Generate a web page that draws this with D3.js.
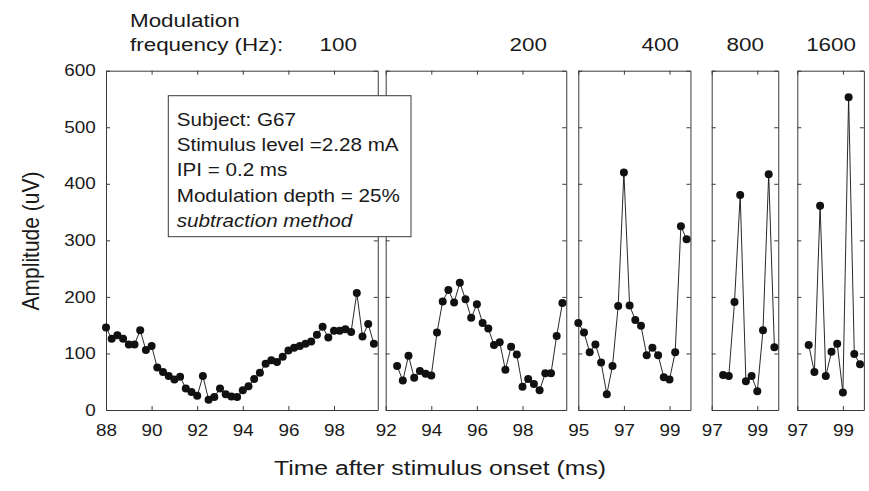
<!DOCTYPE html>
<html>
<head>
<meta charset="utf-8">
<script src="https://cdn.jsdelivr.net/npm/d3@7"></script>
<style>
body { margin: 0; background: #fff; }
</style>
</head>
<body>
<div id="chart"></div>
<script>
var w = 869, h = 491;

// modulation frequencies (Hz), one panel each
var freqs = [100, 200, 400, 800, 1600];

// first sample time (ms) of each series, samples every 0.25 ms
var startTimes = [88, 92.5, 95, 97.5, 97.5];
var step = 0.25;

// amplitudes (uV)
var amp100 = [146,126,132,126,116,116,141,106,113,75,67,60,54,59,38,32,25,60,18,23,
              38,28,24,23,35,42,55,66,82,88,85,94,105,110,113,117,121,133,147,128,
              140,140,143,138,207,130,152,117];
var amp200 = [78,52,96,57,69,64,61,137,192,212,190,225,196,163,187,154,144,115,120,71,
              112,98,41,55,46,35,65,65,131,189];
var amp400 = [154,137,102,116,84,28,78,184,420,185,159,149,97,110,97,58,54,102,325,302];
var amp800 = [62,60,191,380,51,60,33,141,417,111];
var amp1600 = [115,67,361,60,103,117,31,553,99,81];
var series = [amp100, amp200, amp400, amp800, amp1600];

// axis domains and ticks
var xStarts = [88, 92, 95, 97, 97];
var xEnd = 99.92;
var xTicks = [[88,90,92,94,96,98], [92,94,96,98], [95,97,99], [97,99], [97,99]];
var yTicks = [0,100,200,300,400,500,600];

var infoLines = ["Subject: G67", "Stimulus level =2.28 mA", "IPI = 0.2 ms",
                 "Modulation depth = 25%", "subtraction method"];

// layout
var panelLeft = [106, 385.7, 578.3, 711.7, 797.3];
var pxPerMs = 22.8;
var freqLabelX = [357, 547, 679, 764, 856];
var sx = 1.18; // the figure is a little stretched horizontally
var font = "'Liberation Sans', Arial, Helvetica, sans-serif";
var axisColor = "#3a3a3a";

var svg = d3.select("#chart")
            .append("svg")
            .attr("width", w)
            .attr("height", h)
            .style("font-family", font);

var yScale = d3.scaleLinear()
               .domain([0, 600])
               .range([410, 70.7]);

function addText(x, y, str, size, anchor, italic) {
    return svg.append("text")
        .attr("transform", "translate(" + x + "," + y + ") scale(" + sx + ",1)")
        .attr("text-anchor", anchor || "start")
        .attr("font-size", size + "px")
        .attr("font-style", italic ? "italic" : "normal")
        .attr("fill", "#1a1a1a")
        .text(str);
}

function styleAxis(g) {
    g.attr("font-family", font).attr("font-size", "16px");
    g.select(".domain").attr("stroke", axisColor);
    g.selectAll(".tick line").attr("stroke", axisColor);
    g.selectAll(".tick text").attr("fill", "#1a1a1a")
        .attr("transform", "scale(" + sx + ",1)");
}

freqs.forEach(function(f, i) {
    var x0 = panelLeft[i];
    var x1 = x0 + (xEnd - xStarts[i]) * pxPerMs;
    var xScale = d3.scaleLinear()
                   .domain([xStarts[i], xEnd])
                   .range([x0, x1]);

    var data = series[i].map(function(v, j) {
        return {t: startTimes[i] + j * step, v: v};
    });

    // frame with inward ticks on all four sides
    svg.append("g")
        .attr("transform", "translate(0," + yScale(0) + ")")
        .call(d3.axisBottom(xScale).tickValues(xTicks[i]).tickFormat(d3.format("d"))
              .tickSizeInner(-4).tickSizeOuter(0).tickPadding(14.5))
        .call(styleAxis);

    svg.append("g")
        .attr("transform", "translate(0," + yScale(600) + ")")
        .call(d3.axisTop(xScale).tickValues(xTicks[i]).tickFormat("")
              .tickSizeInner(-4).tickSizeOuter(0))
        .call(styleAxis);

    svg.append("g")
        .attr("transform", "translate(" + x0 + ",0)")
        .call(d3.axisLeft(yScale).tickValues(yTicks)
              .tickFormat(i === 0 ? d3.format("d") : "")
              .tickSizeInner(-4).tickSizeOuter(0).tickPadding(8.7))
        .call(styleAxis);

    svg.append("g")
        .attr("transform", "translate(" + x1 + ",0)")
        .call(d3.axisRight(yScale).tickValues(yTicks).tickFormat("")
              .tickSizeInner(-4).tickSizeOuter(0))
        .call(styleAxis);

    var line = d3.line()
                 .x(function(d) { return xScale(d.t); })
                 .y(function(d) { return yScale(d.v); });

    svg.append("path")
        .datum(data)
        .attr("d", line)
        .attr("fill", "none")
        .attr("stroke", "#111")
        .attr("stroke-width", 0.9);

    svg.append("g")
        .selectAll("circle")
        .data(data)
        .enter()
        .append("circle")
        .attr("cx", function(d) { return xScale(d.t); })
        .attr("cy", function(d) { return yScale(d.v); })
        .attr("r", 4)
        .attr("fill", "#111");

    addText(freqLabelX[i], 51, f, 19, "end");
});

// header
addText(130, 26.5, "Modulation", 19, "start");
addText(130, 51, "frequency (Hz):", 19, "start");

// axis titles
svg.append("text")
    .attr("transform", "translate(39,241) rotate(-90) scale(1," + sx + ")")
    .attr("text-anchor", "middle")
    .attr("font-size", "21px")
    .attr("fill", "#1a1a1a")
    .text("Amplitude (uV)");

addText(440, 475, "Time after stimulus onset (ms)", 21, "middle");

// info box
svg.append("rect")
    .attr("x", 168.3)
    .attr("y", 95.7)
    .attr("width", 242.7)
    .attr("height", 141)
    .attr("fill", "#fff")
    .attr("stroke", axisColor)
    .attr("stroke-width", 1);

infoLines.forEach(function(s, j) {
    addText(176.7, 125.7 + j * 25.3, s, 17.5, "start", j === infoLines.length - 1);
});
</script>
</body>
</html>
